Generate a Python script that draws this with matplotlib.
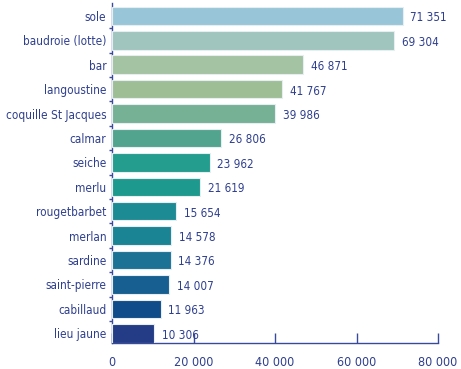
import matplotlib
matplotlib.use('Agg')
import matplotlib.pyplot as plt
import numpy as np

# ── data ────────────────────────────────────────────────────────────
species = ['sole', 'baudroie (lotte)', 'bar', 'langoustine', 'coquille St Jacques',
           'calmar', 'seiche', 'merlu', 'rougetbarbet', 'merlan', 'sardine',
           'saint-pierre', 'cabillaud', 'lieu jaune']
values = [71351, 69304, 46871, 41767, 39986, 26806, 23962, 21619,
          15654, 14578, 14376, 14007, 11963, 10306]
bar_colors = ['#98C6D8', '#A0C4BE', '#A4C3A2', '#9EBE96', '#76B095', '#52A48F',
              '#249C8E', '#1E998D', '#1C8B93', '#1A8394', '#1C7294', '#165F90',
              '#104B8A', '#233C85']
xticks = [0, 20000, 40000, 60000, 80000]

TXT = '#2E3F8F'
AX = '#3A4A9A'
plt.rcParams['font.family'] = ['DejaVu Sans']
plt.rcParams['font.stretch'] = 'condensed'

fig = plt.figure(figsize=(4.61, 3.69), dpi=100)
ax = fig.add_axes([112/461, 1 - 343/369, (438 - 112)/461, 340/369])

y = np.arange(len(species))
ax.barh(y, values, height=0.76, color=bar_colors, edgecolor='#E6EEF2', lw=0.8, zorder=3)

for yi, v in zip(y, values):
    ax.text(v + 1900, yi + 0.08, f'{v:,}'.replace(',', ' '), ha='left', va='center',
            fontsize=8.4, color=TXT)

ax.set_xlim(0, 80000)
ax.set_ylim(13.4, -0.53)
ax.set_yticks(y)
ax.set_yticklabels(species)
ax.set_xticks(xticks)
ax.set_xticklabels([f'{t:,}'.replace(',', ' ') for t in xticks])

ax.tick_params(axis='x', direction='in', length=7, width=1, color=AX,
               labelcolor=TXT, labelsize=9, pad=9)
ax.tick_params(axis='y', length=0, labelcolor=TXT, labelsize=8.5, pad=4)
ax.set_yticks(y[:-1] + 0.5, minor=True)
ax.tick_params(axis='y', which='minor', length=2, width=1, color=AX, direction='out')

for s in ['top', 'right']:
    ax.spines[s].set_visible(False)
for s in ['left', 'bottom']:
    ax.spines[s].set_color(AX)
    ax.spines[s].set_linewidth(1)

fig.savefig('out.png', dpi=100, facecolor='white')
